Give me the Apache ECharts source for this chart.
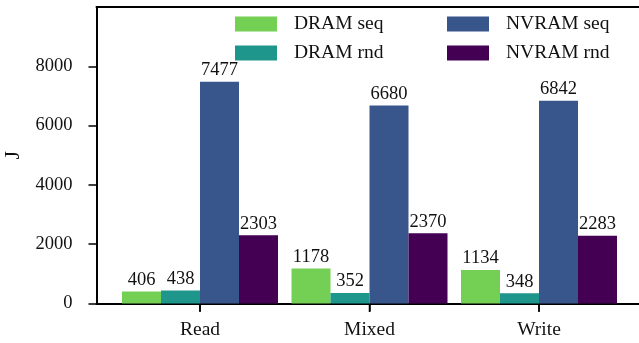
<!DOCTYPE html>
<html>
<head>
<meta charset="utf-8">
<script src="https://cdn.jsdelivr.net/npm/echarts@6/dist/echarts.min.js"></script>
<style>
  html, body { margin: 0; padding: 0; background: #fff; }
  #chart { width: 639px; height: 343px; }
</style>
</head>
<body>
<div id="chart"></div>
<script>
// Energy per workload, DRAM vs NVRAM, sequential and random access
const categories = ['Read', 'Mixed', 'Write'];
const dramSeq  = [406, 1178, 1134];
const dramRnd  = [438, 352, 348];
const nvramSeq = [7477, 6680, 6842];
const nvramRnd = [2303, 2370, 2283];
const yTicks   = [0, 2000, 4000, 6000, 8000];

const seriesNames  = ['DRAM seq', 'DRAM rnd', 'NVRAM seq', 'NVRAM rnd'];
const seriesValues = [dramSeq, dramRnd, nvramSeq, nvramRnd];
const colors = ['#73d055', '#1f968b', '#39568c', '#440154'];

const FONT = 'Liberation Serif';
const Y_MAX = 10000;
const TICK_LEN = 8;

// Frame: axes box spans the full plot width; the category band
// area sits inside it with some extra room on the left.
const FRAME = { left: 96.5, right: 0, top: 7, bottom: 39.5 };
const BANDS = { left: 115.25, width: 508.5, top: 7, bottom: 39.5 };

const chart = echarts.init(document.getElementById('chart'), null, { renderer: 'canvas' });

const barSeries = seriesNames.map((name, s) => ({
  name,
  type: 'bar',
  xAxisIndex: 2,
  yAxisIndex: 1,
  barWidth: 39,
  barGap: '0%',
  itemStyle: { color: colors[s] },
  label: {
    show: true,
    position: 'top',
    distance: 2,
    color: '#111',
    fontFamily: FONT,
    fontSize: 18.5
  },
  data: seriesValues[s]
}));

// Short tick marks hanging below the baseline at each category centre
const tickSeries = {
  name: 'category ticks',
  type: 'scatter',
  xAxisIndex: 2,
  yAxisIndex: 1,
  clip: false,
  silent: true,
  z: 10,
  symbol: 'rect',
  symbolSize: [1.5, TICK_LEN],
  symbolOffset: [0, TICK_LEN / 2 + 0.5],
  itemStyle: { color: '#000', opacity: 1 },
  emphasis: { disabled: true },
  label: { show: false },
  data: categories.map(c => [c, 0])
};

const legendCommon = {
  orient: 'vertical',
  top: 14,
  padding: 0,
  itemWidth: 42,
  itemHeight: 15,
  itemGap: 9,
  icon: 'rect',
  textStyle: {
    fontFamily: FONT,
    fontSize: 19.5,
    color: '#111',
    padding: [0, 0, 0, 12]
  }
};

const frameLine = { show: true, onZero: false, lineStyle: { color: '#000', width: 2 } };

chart.setOption({
  animation: false,
  backgroundColor: '#fff',
  color: colors,
  grid: [
    Object.assign({ containLabel: false, outerBoundsMode: 'none' }, FRAME),
    Object.assign({ containLabel: false, outerBoundsMode: 'none' }, BANDS)
  ],
  legend: [
    Object.assign({ left: 235, data: ['DRAM seq', 'DRAM rnd'] }, legendCommon),
    Object.assign({ left: 447, data: ['NVRAM seq', 'NVRAM rnd'] }, legendCommon)
  ],
  xAxis: [
    {
      // bottom frame line
      gridIndex: 0, type: 'value', position: 'bottom', min: 0, max: 1,
      axisLine: frameLine, axisTick: { show: false }, axisLabel: { show: false },
      splitLine: { show: false }
    },
    {
      // top frame line
      gridIndex: 0, type: 'value', position: 'top', min: 0, max: 1,
      axisLine: frameLine, axisTick: { show: false }, axisLabel: { show: false },
      splitLine: { show: false }
    },
    {
      gridIndex: 1,
      type: 'category',
      data: categories,
      position: 'bottom',
      axisLine: { show: false },
      axisTick: {
        show: true,
        alignWithLabel: true,
        length: TICK_LEN,
        lineStyle: { color: '#000', width: 1.5 }
      },
      axisLabel: {
        margin: 16,
        color: '#111',
        fontFamily: FONT,
        fontSize: 19.5
      },
      splitLine: { show: false }
    }
  ],
  yAxis: [
    {
      gridIndex: 0,
      type: 'value',
      min: 0,
      max: Y_MAX,
      name: 'J',
      nameLocation: 'middle',
      nameGap: 66,
      nameRotate: 90,
      nameTextStyle: { fontFamily: FONT, fontSize: 22, color: '#111' },
      axisLine: frameLine,
      axisTick: {
        show: true,
        length: TICK_LEN,
        customValues: yTicks,
        lineStyle: { color: '#000', width: 1.5 }
      },
      axisLabel: {
        show: true,
        customValues: yTicks,
        margin: 24,
        color: '#111',
        fontFamily: FONT,
        fontSize: 18.5,
        formatter: v => String(v)
      },
      splitLine: { show: false }
    },
    {
      gridIndex: 1,
      type: 'value',
      min: 0,
      max: Y_MAX,
      show: false,
      splitLine: { show: false }
    }
  ],
  series: barSeries.concat([tickSeries])
});
</script>
</body>
</html>
